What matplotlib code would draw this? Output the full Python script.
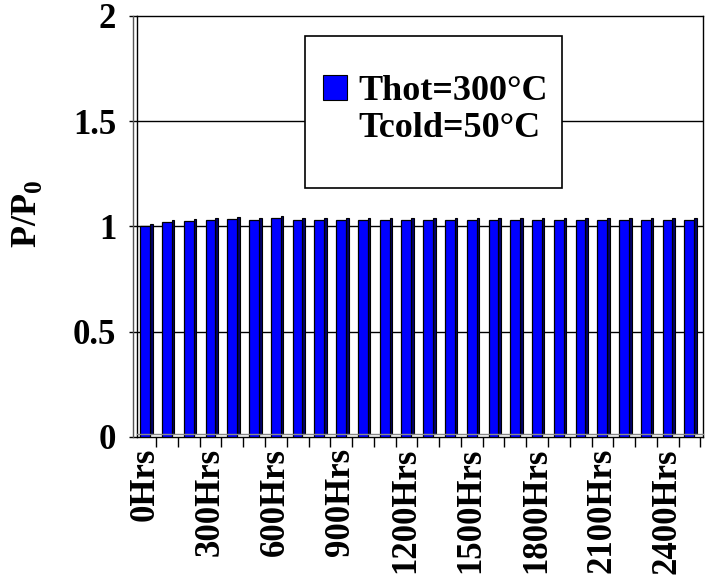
import matplotlib
matplotlib.use('Agg')
import numpy as np
import matplotlib.pyplot as plt
from matplotlib.patches import Rectangle, Patch

plt.rcParams['font.family'] = ['Liberation Serif', 'DejaVu Serif']
plt.rcParams['font.weight'] = 'bold'
plt.rcParams['mathtext.fontset'] = 'custom'
plt.rcParams['mathtext.rm'] = 'Liberation Serif'
plt.rcParams['mathtext.bf'] = 'Liberation Serif:bold'

# 数据：每100小时一个测量点
hours = [0, 100, 200, 300, 400, 500, 600, 700, 800, 900, 1000, 1100, 1200,
         1300, 1400, 1500, 1600, 1700, 1800, 1900, 2000, 2100, 2200, 2300,
         2400, 2500]
ratio = [1.00, 1.02, 1.025, 1.03, 1.035, 1.03, 1.04, 1.03, 1.03, 1.03, 1.03,
         1.03, 1.03, 1.03, 1.03, 1.03, 1.03, 1.03, 1.03, 1.03, 1.03, 1.03,
         1.03, 1.03, 1.03, 1.03]
label_hours = hours[::3]
legend_lines = ['Thot=300°C', 'Tcold=50°C']
yticks = [0, 0.5, 1, 1.5, 2]
yticklabels = ['0', '0.5', '1', '1.5', '2']

fig = plt.figure(figsize=(7.11, 5.8), dpi=100, facecolor='white')
ax = fig.add_axes([0.1927, 0.2466, 0.796, 0.7259])

x = np.arange(len(hours))
vals = np.array(ratio)

# 伪3D柱：侧面（深蓝）+ 正面（蓝）
ax.bar(x + 0.16, vals, width=0.12, bottom=0.012, color='#00006E',
       edgecolor='black', linewidth=0.8, zorder=3)
ax.bar(x - 0.125, vals, width=0.45, color='#0000FF',
       edgecolor='black', linewidth=0.9, zorder=4)

# 网格线
for yv in yticks[1:-1]:
    ax.axhline(yv, color='black', linewidth=1, zorder=1)

for s in ax.spines.values():
    s.set_color('black')
    s.set_linewidth(1)

# 左侧墙的双线和底面
ax.plot([-0.007, -0.007], [0, 1], transform=ax.transAxes, color='#555555',
        linewidth=1, clip_on=False, zorder=5)
ax.plot([0, 1], [0.006, 0.006], transform=ax.transAxes, color='#888888',
        linewidth=1, clip_on=False, zorder=5)

ax.set_yticks(yticks)
ax.set_yticklabels(yticklabels, fontsize=25, fontweight='bold')
ax.tick_params(axis='y', length=6, width=1, pad=9, direction='out')

ax.set_xticks(np.arange(1, len(hours) + 1) - 0.62)
ax.set_xticklabels([])
ax.tick_params(axis='x', which='major', length=7, width=1, direction='out')
ax.set_xticks([hours.index(h) - 0.15 for h in label_hours], minor=True)
ax.set_xticklabels([f'{h}Hrs' for h in label_hours], minor=True,
                   rotation=90, fontsize=25, fontweight='bold', va='top')
ax.tick_params(axis='x', which='minor', length=0, pad=8)

ax.set_xlim(-0.5, len(hours) - 0.5)
ax.set_ylim(0, 2)

ax.set_ylabel(r'$\mathbf{P/P}_\mathrm{0}$', fontsize=26)
ax.yaxis.set_label_coords(-0.165, 0.53)

# 图例框
box = Rectangle((0.429, 0.676), 0.3615, 0.262, transform=fig.transFigure,
                facecolor='white', edgecolor='black', linewidth=1.2, zorder=6)
fig.patches.append(box)

handles = [Patch(facecolor='#0000FF', edgecolor='black', linewidth=0.8),
           Patch(facecolor='none', edgecolor='none')]
leg = fig.legend(handles, legend_lines, loc='center',
                 bbox_to_anchor=(0.612, 0.81), frameon=False,
                 prop={'family': 'Liberation Serif', 'weight': 'bold', 'size': 26},
                 handlelength=0.67, handleheight=0.67, handletextpad=0.3,
                 labelspacing=0.1, borderpad=0)
leg.set_zorder(7)

fig.savefig('out.png', dpi=100, facecolor='white')
